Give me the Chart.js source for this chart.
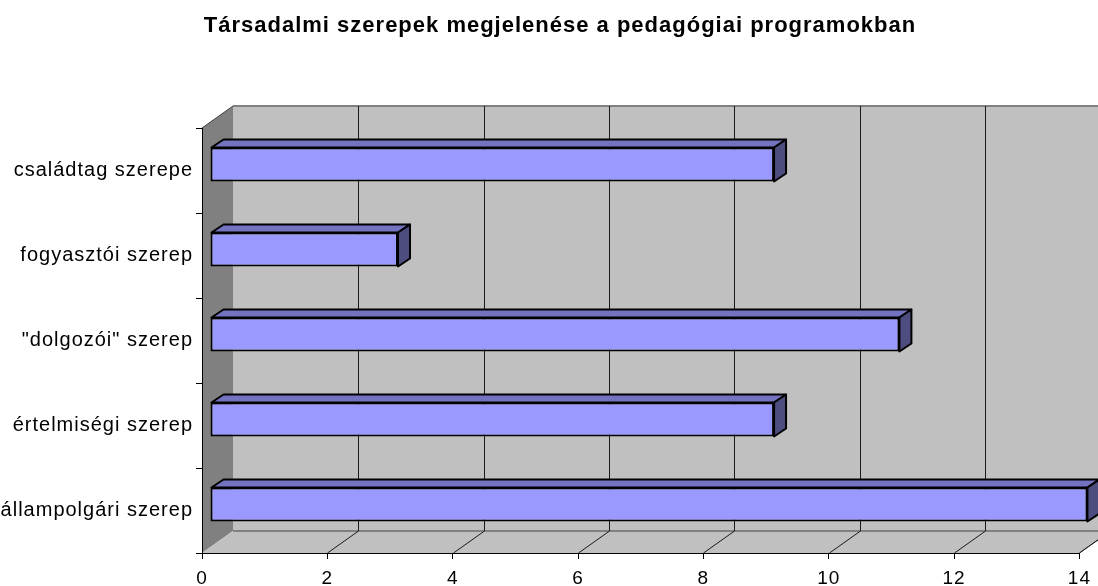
<!DOCTYPE html>
<html>
<head>
<meta charset="utf-8">
<script src="https://cdn.jsdelivr.net/npm/chart.js@4"></script>
<style>
  html, body { margin: 0; padding: 0; background: #fff; }
  canvas { display: block; }
</style>
</head>
<body>
<canvas id="szerepek" width="1098" height="586"></canvas>
<script>
// adatok
const categories = [
  "családtag szerepe",
  "fogyasztói szerep",
  "\"dolgozói\" szerep",
  "értelmiségi szerep",
  "állampolgári szerep",
];
const values = [9, 3, 11, 9, 14];
const xMin = 0;
const xMax = 14;
const xStep = 2;

// 3D hatás: hátsó fal eltolása és az oszlopok mélysége
const WALL_DX = 31, WALL_DY = -22;
const BAR_DX = 8, BAR_DY = -6;
const DEPTH_DX = 12, DEPTH_DY = -8;

const font = "'Liberation Sans', Arial, sans-serif";

function poly(ctx, pts, fill, stroke, width) {
  ctx.beginPath();
  ctx.moveTo(pts[0][0], pts[0][1]);
  for (let i = 1; i < pts.length; i++) ctx.lineTo(pts[i][0], pts[i][1]);
  ctx.closePath();
  if (fill) { ctx.fillStyle = fill; ctx.fill(); }
  if (stroke) { ctx.strokeStyle = stroke; ctx.lineWidth = width || 1; ctx.stroke(); }
}

// falak, padló és rácsvonalak
const walls3d = {
  id: "walls3d",
  afterLayout(chart) {
    // a cím kicsit jobbra van az eredetin
    if (chart.titleBlock) {
      chart.titleBlock.left += 18;
      chart.titleBlock.right += 18;
    }
  },
  beforeDraw(chart) {
    const ctx = chart.ctx;
    const a = chart.chartArea;
    const x = chart.scales.x;
    ctx.letterSpacing = "1px";
    ctx.save();
    // hátsó fal
    ctx.fillStyle = "#c0c0c0";
    ctx.fillRect(a.left + WALL_DX, a.top + WALL_DY, a.width + 40, a.height);
    // bal oldali fal
    poly(ctx, [
      [a.left, a.top], [a.left + WALL_DX, a.top + WALL_DY],
      [a.left + WALL_DX, a.bottom + WALL_DY], [a.left, a.bottom],
    ], "#808080");
    // padló
    poly(ctx, [
      [a.left, a.bottom], [a.left + WALL_DX, a.bottom + WALL_DY],
      [a.right + WALL_DX, a.bottom + WALL_DY], [a.right, a.bottom],
    ], "#c0c0c0");
    // élek
    ctx.strokeStyle = "#808080";
    ctx.lineWidth = 2;
    ctx.beginPath();
    ctx.moveTo(a.left + WALL_DX, a.top + WALL_DY);
    ctx.lineTo(a.right + WALL_DX + 40, a.top + WALL_DY);
    ctx.moveTo(a.left + WALL_DX, a.bottom + WALL_DY);
    ctx.lineTo(a.right + WALL_DX + 40, a.bottom + WALL_DY);
    ctx.stroke();
    ctx.strokeStyle = "#404040";
    ctx.lineWidth = 1;
    ctx.beginPath();
    ctx.moveTo(a.left, a.top);
    ctx.lineTo(a.left + WALL_DX, a.top + WALL_DY);
    ctx.moveTo(a.right, a.bottom);
    ctx.lineTo(a.right + WALL_DX, a.bottom + WALL_DY);
    ctx.stroke();
    // rácsvonalak a hátsó falon és a padlón
    ctx.strokeStyle = "#1a1a1a";
    ctx.lineWidth = 1;
    ctx.beginPath();
    x.ticks.forEach((t) => {
      if (t.value <= xMin) return;
      const px = Math.round(x.getPixelForValue(t.value)) + 0.5;
      ctx.moveTo(px + WALL_DX, a.top + WALL_DY);
      ctx.lineTo(px + WALL_DX, a.bottom + WALL_DY);
      ctx.moveTo(px, a.bottom);
      ctx.lineTo(px + WALL_DX, a.bottom + WALL_DY);
    });
    ctx.stroke();
    ctx.restore();
  },
  beforeDatasetsDraw(chart) {
    chart.ctx.save();
    chart.ctx.translate(BAR_DX, BAR_DY);
  },
  afterDatasetsDraw(chart) {
    const ctx = chart.ctx;
    ctx.restore();
    ctx.save();
    chart.getDatasetMeta(0).data.forEach((bar) => {
      const x0 = bar.base + BAR_DX;
      const x1 = bar.x + BAR_DX;
      const yT = bar.y - bar.height / 2 + BAR_DY;
      const yB = bar.y + bar.height / 2 + BAR_DY;
      ctx.lineJoin = "round";
      poly(ctx, [
        [x0 + 1, yT], [x0 + 1 + DEPTH_DX, yT + DEPTH_DY],
        [x1 + DEPTH_DX, yT + DEPTH_DY], [x1, yT],
      ], "#7373bf", "#000", 2);
      poly(ctx, [
        [x1, yT], [x1 + DEPTH_DX, yT + DEPTH_DY],
        [x1 + DEPTH_DX, yB + DEPTH_DY], [x1, yB],
      ], "#4d4d80", "#000", 2);
    });
    ctx.restore();
  },
};

const ctx = document.getElementById("szerepek").getContext("2d");
const chart = new Chart(ctx, {
  type: "bar",
  plugins: [walls3d],
  data: {
    labels: categories,
    datasets: [
      {
        data: values,
        backgroundColor: "#9999ff",
        borderColor: "#000",
        borderWidth: 2,
        borderSkipped: false,
        categoryPercentage: 1,
        barPercentage: 0.4,
        clip: false,
      },
    ],
  },
  options: {
    indexAxis: "y",
    responsive: false,
    animation: false,
    devicePixelRatio: 1,
    layout: { padding: { left: 0, right: 14, top: 0, bottom: 0 } },
    scales: {
      x: {
        min: xMin,
        max: xMax,
        ticks: { stepSize: xStep, color: "#000", padding: 8, font: { family: font, size: 19 } },
        grid: { drawOnChartArea: false, drawTicks: true, tickLength: 6, color: "#000" },
        border: { display: true, color: "#000", width: 1 },
        afterFit(scale) { scale.height = 33; },
      },
      y: {
        ticks: { color: "#000", padding: 3, font: { family: font, size: 20 } },
        grid: { drawOnChartArea: false, drawTicks: true, tickLength: 6, color: "#000" },
        border: { display: true, color: "#000", width: 1 },
        afterFit(scale) { scale.width = 202; },
      },
    },
    plugins: {
      legend: { display: false },
      tooltip: { enabled: false },
      title: {
        display: true,
        text: "Társadalmi szerepek megjelenése a pedagógiai programokban",
        color: "#000",
        font: { family: font, size: 22, weight: "bold" },
        padding: { top: 13, bottom: 88.6 },
      },
    },
  },
});
</script>
</body>
</html>
